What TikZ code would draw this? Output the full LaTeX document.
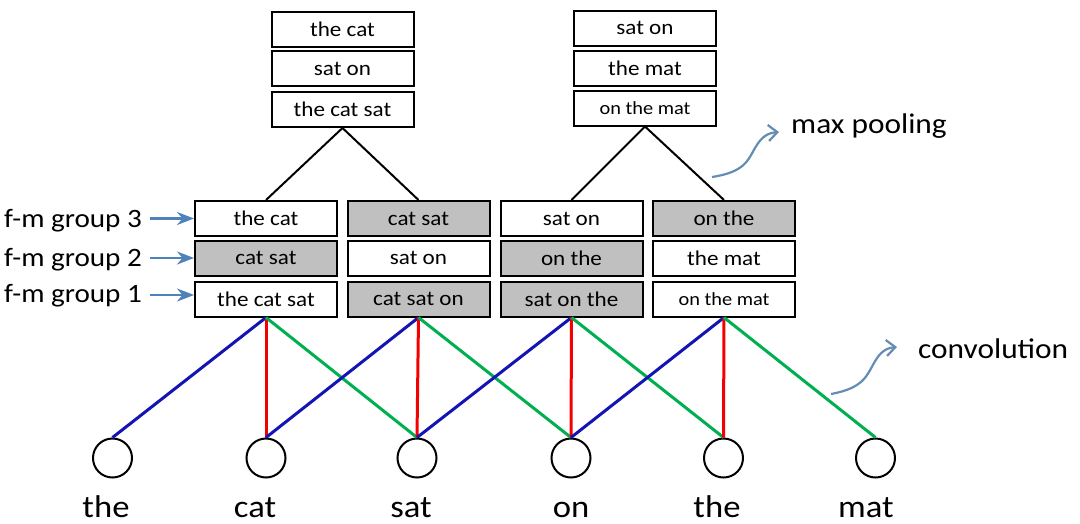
\documentclass[tikz,border=0pt]{standalone}
\usepackage{fontspec}
\setmainfont{Carlito}[FakeStretch=1.1]
\usetikzlibrary{arrows.meta}
\definecolor{fmgray}{RGB}{192,192,192}
\definecolor{cblue}{RGB}{20,20,180}
\definecolor{cred}{RGB}{245,0,0}
\definecolor{cgreen}{RGB}{0,176,80}
\definecolor{lblue}{RGB}{79,129,189}
\definecolor{cblueA}{RGB}{100,140,180}
\tikzset{
  fm/.style={draw=black, line width=2pt, fill=white, minimum width=142pt, minimum height=35pt, inner sep=0pt, font=\fontsize{21}{22}\selectfont},
  fmg/.style={fm, fill=fmgray},
  small/.style={font=\fontsize{18.5}{20}\selectfont},
  word/.style={draw=black, line width=2pt, circle, minimum size=39pt, inner sep=0pt},
  wlabel/.style={anchor=base, font=\fontsize{31.5}{33}\selectfont},
  glabel/.style={anchor=base west, font=\fontsize{26.5}{28}\selectfont, inner sep=0pt},
  slabel/.style={anchor=base west, font=\fontsize{28.5}{30}\selectfont, inner sep=0pt},
  glarrow/.style={draw=lblue, line width=2.6pt, -{Stealth[length=17pt,width=13pt]}},
  pool/.style={draw=black, line width=2pt},
  conv/.style={line width=3pt},
  curvy/.style={draw=cblueA, line width=2.2pt, -{Straight Barb[length=9pt,width=16pt]}}
}
\begin{document}
\begin{tikzpicture}[x=1pt,y=-1pt]
\useasboundingbox (0,0) rectangle (1080,523);
% feature map boxes
\node[fm]  (a3) at (266,218.5) {the cat};
\node[fmg] (a2) at (266,258) {cat sat};
\node[fm]  (a1) at (266,299) {the cat sat};
\node[fmg] (b3) at (418.5,218.5) {cat sat};
\node[fm]  (b2) at (418.5,258) {sat on};
\node[fmg] (b1) at (418.5,299) {cat sat on};
\node[fm]  (c3) at (571.5,218.5) {sat on};
\node[fmg] (c2) at (571.5,258) {on the};
\node[fmg] (c1) at (571.5,299) {sat on the};
\node[fmg] (d3) at (724,218.5) {on the};
\node[fm]  (d2) at (724,258) {the mat};
\node[fm,small] (d1) at (724,299) {on the mat};
% pooled boxes
\node[fm] (p13) at (342.5,29) {the cat};
\node[fm] (p12) at (342.5,68.5) {sat on};
\node[fm] (p11) at (342.5,109.5) {the cat sat};
\node[fm] (p23) at (645,28) {sat on};
\node[fm] (p22) at (645,68) {the mat};
\node[fm,small] (p21) at (645,108) {on the mat};
% pooling lines
\draw[pool] (p11.south) -- (a3.north);
\draw[pool] (p11.south) -- (b3.north);
\draw[pool] (p21.south) -- (c3.north);
\draw[pool] (p21.south) -- (d3.north);
% words
\node[word] (w1) at (112.5,458) {};
\node[word] (w2) at (266,458) {};
\node[word] (w3) at (417,458) {};
\node[word] (w4) at (571,458) {};
\node[word] (w5) at (723.5,458) {};
\node[word] (w6) at (875.5,458) {};
\node[wlabel] (t1) at (106,517) {the};
\node[wlabel] (t2) at (255,517) {cat};
\node[wlabel] (t3) at (411,517) {sat};
\node[wlabel] (t4) at (571,517) {on};
\node[wlabel] (t5) at (717,517) {the};
\node[wlabel] (t6) at (866,517) {mat};
% convolution lines
\draw[conv,cblue]  (a1.south) -- (w1.north);
\draw[conv,cred]   (a1.south) -- (w2.north);
\draw[conv,cgreen] (a1.south) -- (w3.north);
\draw[conv,cblue]  (b1.south) -- (w2.north);
\draw[conv,cred]   (b1.south) -- (w3.north);
\draw[conv,cgreen] (b1.south) -- (w4.north);
\draw[conv,cblue]  (c1.south) -- (w3.north);
\draw[conv,cred]   (c1.south) -- (w4.north);
\draw[conv,cgreen] (c1.south) -- (w5.north);
\draw[conv,cblue]  (d1.south) -- (w4.north);
\draw[conv,cred]   (d1.south) -- (w5.north);
\draw[conv,cgreen] (d1.south) -- (w6.north);
% group labels
\node[glabel] (g3) at (4,227) {f-m group 3};
\node[glabel] (g2) at (4,266) {f-m group 2};
\node[glabel] (g1) at (4,302) {f-m group 1};
\draw[glarrow] (150,218.5) -- (a3.west);
\draw[glarrow] (150,258) -- (a2.west);
\draw[glarrow] (150,295) -- (a1.west|-150,295);
% side labels
\node[slabel] (mp) at (791,133) {max pooling};
\node[slabel] (cv) at (918,358) {convolution};
\coordinate (mps) at (712,177);
\coordinate (cvs) at (831,394);
\draw[curvy] (mps) .. controls (745,172) and (748,160) .. (755,148) .. controls (762,136) and (768,133) .. (779,132);
\draw[curvy] (cvs) .. controls (864,388) and (867,375) .. (874,363) .. controls (880,352) and (886,348) .. (897,347);
\end{tikzpicture}
\end{document}
